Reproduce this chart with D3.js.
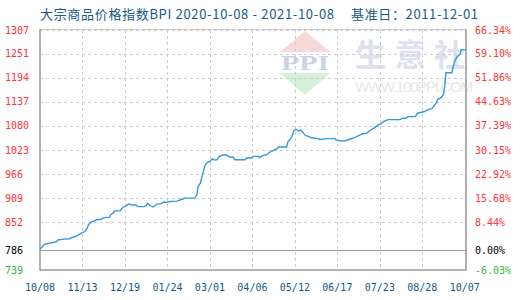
<!DOCTYPE html>
<html>
<head>
<meta charset="utf-8">
<script src="https://cdn.jsdelivr.net/npm/d3@7"></script>
<style>
  html, body { margin: 0; padding: 0; background: #fff; }
  svg { display: block; }
</style>
</head>
<body>
<svg id="chart" width="520" height="300"></svg>
<script>
// BPI index, day offset from 2020-10-08
const days = [0,2,4,7,11,14,15,20,25,27,29,32,35,38,40,41,43,46,48,52,53,55,59,60,62,63,68,70,73,75,
  78,81,83,88,90,91,93,96,99,103,105,107,110,116,121,123,131,133,134,136,138,140,142,144,146,148,150,152,155,158,
  160,164,165,174,175,179,181,185,186,189,192,196,201,202,209,210,213,215,217,219,221,223,225,227,230,236,237,243,250,251,
  257,260,263,267,270,273,277,279,282,285,287,289,291,295,305,308,309,312,318,320,326,329,332,336,337,340,342,343,344,349,
  351,353,356,357,361];
const bpi = [788,794,800,802,804,806,810,812,813,816,817,821,826,830,838,846,852,855,858,859,862,863,864,870,874,879,879,887,891,895,
  893,893,889,889,891,897,892,888,895,896,900,899,901,902,907,909,909,917,937,945,969,988,994,996,1002,999,1000,1008,1011,1011,
  1007,1006,1000,1000,1004,1004,1008,1008,1005,1010,1012,1020,1026,1030,1030,1042,1052,1068,1072,1068,1070,1064,1057,1056,1052,1050,1048,1050,1050,1046,
  1044,1046,1049,1053,1057,1061,1063,1068,1073,1079,1083,1085,1090,1095,1095,1099,1097,1102,1102,1110,1114,1119,1121,1135,1143,1147,1155,1174,1206,1206,
  1230,1242,1250,1260,1260];

const xTickDays = [0,36,72,108,144,180,216,252,288,324,360];
const xTickLabels = ["10/08","11/13","12/19","01/24","03/01","04/06","05/12","06/17","07/23","08/28","10/07"];
const yTicks = [739,786,852,909,966,1023,1080,1137,1194,1251,1307];
const pctLabels = ["-6.03%","0.00%","8.44%","15.68%","22.92%","30.15%","37.39%","44.63%","51.86%","59.10%","66.34%"];
const baseValue = 786;

const titleMain = "大宗商品价格指数BPI 2020-10-08 - 2021-10-08";
const titleBase = "基准日：2011-12-01";

const svg = d3.select("#chart");
const margin = { top: 30, right: 54, bottom: 30, left: 40 };
const W = 520, H = 300;

const x = d3.scaleLinear().domain([0, 361]).range([margin.left, W - margin.right]);
const y = d3.scaleLinear().domain([739, 1307]).range([H - margin.bottom, margin.top]);

const RED = "#ff3333", GREEN = "#33b833", BLUE = "#145a8a";
const MONO = "'DejaVu Sans Mono', 'Liberation Mono', monospace";

// ===== WATERMARK =====
const wm = svg.append("g");
wm.append("path").attr("d", "M280,52 L305,31 L330,52 Z").attr("fill", "#f8d8d8");
wm.append("path").attr("d", "M280,73 L330,73 L305,95 Z").attr("fill", "#d6efd8");
wm.append("text").attr("x", 281).attr("y", 70)
  .attr("font-family", "'Liberation Serif', serif").attr("font-size", 21).attr("font-weight", "bold")
  .attr("textLength", 48).attr("lengthAdjust", "spacingAndGlyphs")
  .attr("fill", "#cdd3e4").text("PPI");
wm.append("text").attr("x", 355).attr("y", 66)
  .attr("font-family", "'Noto Sans CJK SC', sans-serif").attr("font-size", 31).attr("font-weight", "bold")
  .attr("textLength", 110).attr("fill", "#dde2ee").text("生意社");
wm.append("text").attr("x", 355).attr("y", 92)
  .attr("font-family", "'Liberation Sans', Arial, sans-serif").attr("font-size", 15)
  .attr("textLength", 118).attr("fill", "#e6e8ec").text("WWW.100PPI.COM");

// ===== GRID =====
const grid = svg.append("g").attr("stroke", "#cccccc").attr("stroke-dasharray", "3,3").attr("stroke-width", 1);
grid.selectAll("line.h")
  .data(yTicks.filter(v => v !== baseValue && v !== 739))
  .enter().append("line")
  .attr("x1", margin.left).attr("x2", W - margin.right)
  .attr("y1", d => Math.round(y(d)) + 0.5).attr("y2", d => Math.round(y(d)) + 0.5);
grid.selectAll("line.v")
  .data(xTickDays.slice(1))
  .enter().append("line")
  .attr("x1", d => Math.round(x(d)) + 0.5).attr("x2", d => Math.round(x(d)) + 0.5)
  .attr("y1", margin.top).attr("y2", H - margin.bottom);

// frame
svg.append("line").attr("x1", margin.left).attr("x2", W - margin.right)
  .attr("y1", margin.top - 0.5).attr("y2", margin.top - 0.5).attr("stroke", "#d0d0d0");
svg.append("path")
  .attr("d", `M${margin.left},${margin.top - 1} V${H - margin.bottom} H${W - margin.right} V${margin.top - 1}`)
  .attr("fill", "none").attr("stroke", "#999").attr("stroke-width", 1.5);
// base line
svg.append("line").attr("x1", margin.left).attr("x2", W - margin.right)
  .attr("y1", Math.round(y(baseValue)) + 0.5).attr("y2", Math.round(y(baseValue)) + 0.5)
  .attr("stroke", "#999").attr("stroke-width", 1.2);

// ===== LINE =====
const line = d3.line().x(d => x(d[0])).y(d => y(d[1]));
svg.append("path")
  .datum(days.map((d, i) => [d, bpi[i]]))
  .attr("d", line)
  .attr("fill", "none")
  .attr("stroke", "#3399dd")
  .attr("stroke-width", 1.4);

// ===== AXES LABELS =====
const colorFor = v => v === baseValue ? "#000" : (v < baseValue ? GREEN : RED);

svg.append("g").selectAll("text")
  .data(yTicks).enter().append("text")
  .attr("x", 5).attr("y", d => y(d)).attr("dy", "0.35em")
  .attr("font-family", MONO).attr("font-size", 10)
  .attr("fill", colorFor).text(d => d);

svg.append("g").selectAll("text")
  .data(yTicks).enter().append("text")
  .attr("x", 475).attr("y", d => y(d)).attr("dy", "0.35em")
  .attr("font-family", MONO).attr("font-size", 10)
  .attr("fill", colorFor).text((d, i) => pctLabels[i]);

svg.append("g").selectAll("text")
  .data(xTickDays).enter().append("text")
  .attr("x", d => x(d)).attr("y", 291).attr("text-anchor", "middle")
  .attr("font-family", MONO).attr("font-size", 10)
  .attr("fill", BLUE).text((d, i) => xTickLabels[i]);

// ===== TITLE =====
const title = svg.append("text").attr("y", 19)
  .attr("font-family", "'Noto Sans CJK SC', sans-serif").attr("font-size", 13).attr("fill", BLUE);
title.append("tspan").attr("x", 40).attr("textLength", 294).text(titleMain);
title.append("tspan").attr("x", 351).attr("textLength", 127).text(titleBase);
</script>
</body>
</html>
